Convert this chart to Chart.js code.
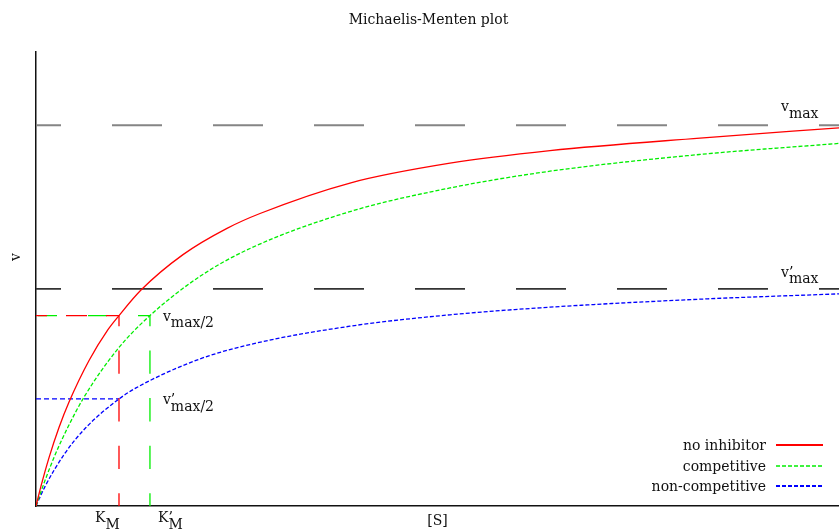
<!DOCTYPE html>
<html>
<head>
<meta charset="utf-8">
<title>Michaelis-Menten plot</title>
<script src="https://cdn.jsdelivr.net/npm/chart.js@4.4.1/dist/chart.umd.min.js"></script>
<style>
  html, body { margin: 0; padding: 0; background: #fff; }
</style>
</head>
<body>
<canvas id="mmChart" width="839" height="531"></canvas>
<script>
// values: [S] in units of K_M, v in units of v_max
const sNoInhibitor = [0, 0.060, 0.157, 0.277, 0.398, 0.639, 0.867, 1.0, 1.265, 1.771, 2.301, 2.699, 3.783, 4.988, 6.193, 8.0, 9.675];
const vNoInhibitor = [0, 0.052, 0.127, 0.206, 0.273, 0.382, 0.463, 0.5, 0.567, 0.660, 0.729, 0.768, 0.848, 0.900, 0.933, 0.966, 0.993];

const sCompetitive = [0, 0.100, 0.220, 0.382, 0.582, 0.984, 1.373, 1.976, 2.578, 3.783, 4.988, 6.193, 8.0, 9.675];
const vCompetitive = [0, 0.062, 0.129, 0.206, 0.287, 0.412, 0.5, 0.603, 0.676, 0.773, 0.835, 0.879, 0.923, 0.952];

const sNonCompetitive = [0, 0.108, 0.341, 0.602, 1.0, 1.205, 1.936, 2.578, 3.783, 4.988, 6.193, 8.0, 9.675];
const vNonCompetitive = [0, 0.051, 0.136, 0.206, 0.281, 0.310, 0.383, 0.424, 0.472, 0.502, 0.522, 0.543, 0.557];

// guide lines
const vMax = 1.0, vMaxPrime = 0.57;
const vHalf = 0.5, vHalfPrime = 0.281;
const kM = 1.0, kMPrime = 1.373;
const sRange = [0, 9.675];
const vRange = [0, 1.192];

const seriesNames = ["no inhibitor", "competitive", "non-competitive"];
const seriesColors = ["#ff0000", "#00ee00", "#0000ff"];

const FONT = "'DejaVu Serif', 'Liberation Serif', serif";

function xy(xs, ys) {
    return xs.map((x, i) => ({ x: x, y: ys[i] }));
}

function guide(data, color, width, dash, offset) {
    return {
        data: data,
        borderColor: color,
        borderWidth: width,
        borderDash: dash,
        borderDashOffset: offset,
        showLine: true,
        pointRadius: 0,
        fill: false
    };
}

// text labels with same-size subscripts, like the original
function subText(ctx, x, y, main, sub, prime, dy) {
    ctx.fillText(main, x, y);
    const w = ctx.measureText(main).width;
    if (prime) ctx.fillText("\u2019", x + w, y);
    ctx.fillText(sub, x + w, y + dy);
}

const labelPlugin = {
    id: "mmLabels",
    afterDraw(chart) {
        const ctx = chart.ctx;
        const area = chart.chartArea;
        const xs = chart.scales.x, ys = chart.scales.y;
        ctx.save();
        ctx.fillStyle = "#111";
        ctx.font = "14px " + FONT;
        ctx.textAlign = "left";
        ctx.textBaseline = "alphabetic";

        subText(ctx, area.right - 58, ys.getPixelForValue(vMax) - 14, "v", "max", false, 7);
        subText(ctx, area.right - 58, ys.getPixelForValue(vMaxPrime) - 12, "v", "max", true, 6);
        subText(ctx, xs.getPixelForValue(kMPrime) + 13, ys.getPixelForValue(vHalf) + 5, "v", "max/2", false, 6);
        subText(ctx, xs.getPixelForValue(kMPrime) + 13, ys.getPixelForValue(vHalfPrime) + 5, "v", "max/2", true, 7);
        subText(ctx, xs.getPixelForValue(kM) - 24, area.bottom + 16, "K", "M", false, 7);
        subText(ctx, xs.getPixelForValue(kMPrime) + 8, area.bottom + 16, "K", "M", true, 7);

        // y axis label
        ctx.save();
        ctx.translate(area.left - 19.5, (area.top + area.bottom) / 2 - 22);
        ctx.rotate(-Math.PI / 2);
        ctx.textAlign = "center";
        ctx.textBaseline = "middle";
        ctx.fillText("v", 0, 0);
        ctx.restore();

        // legend, bottom right, text to the left of the sample line
        const rows = [area.bottom - 61, area.bottom - 40, area.bottom - 20];
        const legendWidth = [2, 1.3, 2.2];
        ctx.textAlign = "right";
        seriesNames.forEach((name, i) => {
            const ds = chart.data.datasets[i];
            ctx.fillStyle = "#111";
            ctx.fillText(name, area.right - 73, rows[i] + 5);
            ctx.beginPath();
            ctx.strokeStyle = ds.borderColor;
            ctx.lineWidth = legendWidth[i];
            ctx.setLineDash(ds.borderDash || []);
            ctx.moveTo(area.right - 63, rows[i]);
            ctx.lineTo(area.right - 16, rows[i]);
            ctx.stroke();
        });
        ctx.restore();
    }
};

const ctx = document.getElementById("mmChart").getContext("2d");

new Chart(ctx, {
    type: "scatter",
    data: {
        datasets: [
            {
                label: seriesNames[0],
                data: xy(sNoInhibitor, vNoInhibitor),
                borderColor: seriesColors[0],
                borderWidth: 1.3,
                borderDash: [],
                showLine: true,
                pointRadius: 0,
                cubicInterpolationMode: "monotone"
            },
            {
                label: seriesNames[1],
                data: xy(sCompetitive, vCompetitive),
                borderColor: seriesColors[1],
                borderWidth: 1.3,
                borderDash: [4, 2],
                showLine: true,
                pointRadius: 0,
                cubicInterpolationMode: "monotone"
            },
            {
                label: seriesNames[2],
                data: xy(sNonCompetitive, vNonCompetitive),
                borderColor: seriesColors[2],
                borderWidth: 1.3,
                borderDash: [4, 2],
                showLine: true,
                pointRadius: 0,
                cubicInterpolationMode: "monotone"
            },
            guide(xy(sRange, [vMax, vMax]), "#858585", 2, [50, 51], 25),
            guide(xy(sRange, [vMaxPrime, vMaxPrime]), "#333333", 1.6, [50, 51], 25),
            guide(xy([0, kM], [vHalf, vHalf]), "#ff0000", 1.3, [21, 19], 10),
            guide(xy([0, kMPrime], [vHalf, vHalf]), "#00ee00", 1.3, [19, 31], 48),
            guide(xy([kM, kM], [0, vHalf]), "#ff0000", 1.3, [23.3, 24.3], 10.6),
            guide(xy([kMPrime, kMPrime], [0, vHalf]), "#00ee00", 1.3, [23.3, 24.3], 10.6),
            guide(xy([0, kM], [vHalfPrime, vHalfPrime]), "#0000ff", 1.2, [5, 3], 0)
        ]
    },
    options: {
        responsive: false,
        animation: false,
        layout: { padding: { left: 18, right: 0, top: 0, bottom: 0 } },
        plugins: {
            legend: { display: false },
            tooltip: { enabled: false },
            title: {
                display: true,
                text: "Michaelis-Menten plot",
                color: "#111",
                font: { family: FONT, size: 14, weight: "normal", lineHeight: 1.2 },
                padding: { top: 11.6, bottom: 23.6 }
            }
        },
        scales: {
            x: {
                type: "linear",
                min: sRange[0],
                max: sRange[1],
                grid: { display: false, drawTicks: false },
                ticks: { display: false },
                border: { display: true, color: "#111", width: 1.5 },
                title: {
                    display: true,
                    text: "[S]",
                    color: "#111",
                    font: { family: FONT, size: 14, weight: "normal", lineHeight: 1.2 },
                    padding: { top: 7.1, bottom: 1.1 }
                }
            },
            y: {
                type: "linear",
                min: vRange[0],
                max: vRange[1],
                grid: { display: false, drawTicks: false },
                ticks: { display: false },
                border: { display: true, color: "#111", width: 1.5 },
                afterFit(scale) { scale.width = 18; }
            }
        }
    },
    plugins: [labelPlugin]
});
</script>
</body>
</html>
